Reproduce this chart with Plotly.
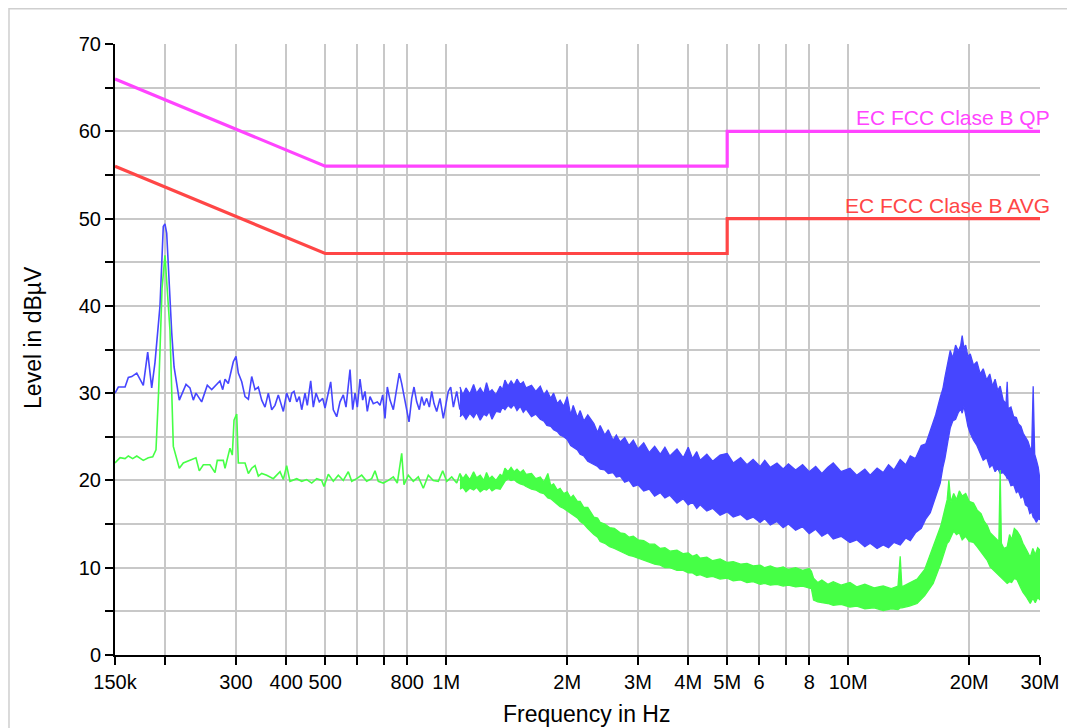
import numpy as np
import plotly.graph_objects as go

# ---------------- limit lines ----------------
qp_freq = [150e3, 500e3, 5e6, 5e6, 30e6]
qp_level = [66, 56, 56, 60, 60]
avg_freq = [150e3, 500e3, 5e6, 5e6, 30e6]
avg_level = [56, 46, 46, 50, 50]

# ---------------- blue (peak) trace, thin-line part ----------------
blue_low_khz = [150, 152.9, 158.9, 161.9, 165.1, 169.9, 176.4, 180.9, 185.1, 188.6,
                194.1, 197.8, 199.7, 201.7, 207.6, 210.4, 216.8, 225.3, 230.4, 234.9,
                238.5, 246.4, 254.5, 261.0, 273.6, 278.0, 281.7, 287.0, 295.4, 300.0,
                304.0, 310.0, 315.9, 322.0, 328.2, 334.5, 340.9, 347.6, 354.2, 361.0,
                368.1, 375.0, 382.2, 393.4, 401.0, 408.7]
blue_low_db = [30.0, 30.7, 30.7, 31.8, 31.9, 32.3, 30.9, 34.7, 30.6, 33.5,
               40.0, 49.1, 49.4, 48.3, 36.9, 33.0, 29.2, 31.0, 30.6, 29.2,
               30.0, 29.0, 30.9, 30.4, 31.4, 30.4, 31.6, 31.1, 33.6, 34.2,
               32.3, 31.3, 29.6, 29.3, 31.9, 30.4, 30.7, 29.2, 28.4, 30.0,
               28.1, 28.6, 29.8, 27.9, 30.0, 29.0]
blue_mid_khz = [412.8, 418.2, 424.8, 431.1, 437.1, 445.4, 451.3, 460.2, 467.1, 474.3,
                483.4, 492.9, 499.5, 509.0, 516.0, 523.8, 534.1, 544.3, 554.7, 563.3,
                576.4, 585.3, 593.1, 601.0, 610.3, 619.8, 628.1, 636.4, 646.3, 658.6,
                673.9, 684.4, 695.1, 704.3, 713.7, 724.8, 738.6, 750.0, 764.4, 775.0,
                785.2, 797.5, 808.1, 820.7, 831.6, 844.5, 857.2, 869.1, 880.6, 894.3,
                907.8, 920.3, 932.5, 947.1, 965.2, 983.6, 997.2, 1012, 1026, 1042,
                1062, 1082]
blue_mid_db = [30.0, 30.2, 29.0, 29.6, 28.1, 30.0, 28.6, 31.4, 28.4, 30.0,
               29.0, 29.4, 28.3, 30.0, 31.3, 28.1, 27.3, 29.0, 29.8, 28.4,
               32.7, 28.1, 30.0, 28.4, 31.6, 29.2, 30.2, 27.9, 29.6, 28.8,
               29.0, 28.6, 29.8, 27.1, 30.7, 29.2, 28.1, 30.0, 32.3, 31.1,
               29.8, 28.4, 26.7, 29.4, 30.7, 29.0, 28.1, 29.6, 28.6, 29.4,
               28.4, 30.2, 28.8, 27.9, 29.4, 27.1, 28.8, 30.2, 30.7, 28.4,
               30.2, 28.1]

# ---------------- blue trace, dense noise band (upper / lower envelope) ----------------
blue_a_mhz = [1.082, 1.10, 1.12, 1.145, 1.17, 1.19, 1.215, 1.24, 1.26, 1.28,
              1.30, 1.33, 1.362, 1.38, 1.40, 1.425, 1.45, 1.475, 1.50, 1.528,
              1.555, 1.58, 1.63, 1.67, 1.714, 1.75, 1.78, 1.82, 1.85, 1.89,
              1.92, 1.96]
blue_a_hi = [30.7, 29.8, 30.6, 29.9, 31.0, 30.0, 30.6, 29.9, 31.2, 30.1,
             30.4, 29.8, 30.8, 30.4, 31.5, 30.8, 31.4, 30.9, 31.6, 31.0,
             31.3, 30.6, 30.9, 30.2, 30.8, 29.8, 30.3, 29.4, 30.0, 28.8,
             29.2, 28.5]
blue_a_lo = [27.3, 27.6, 27.0, 27.7, 27.2, 27.8, 26.9, 27.6, 27.4, 27.9,
             27.0, 27.9, 27.8, 28.4, 28.1, 28.6, 28.3, 28.7, 28.0, 28.5,
             27.8, 28.2, 27.3, 27.6, 27.0, 26.8, 26.3, 26.2, 25.8, 25.6,
             25.2, 25.0]
blue_b_mhz = [2.0, 2.04, 2.07, 2.12, 2.154, 2.2, 2.25, 2.33, 2.38, 2.415,
              2.48, 2.53, 2.6, 2.65, 2.709, 2.78, 2.85, 2.92, 3.0, 3.1,
              3.2, 3.3, 3.407, 3.5, 3.6, 3.75, 3.887, 4.0, 4.1, 4.2,
              4.283, 4.45, 4.6, 4.8, 5.0, 5.176, 5.4, 5.6, 5.8, 6.04,
              6.2, 6.4, 6.65, 6.89, 7.1, 7.4, 7.7, 8.0, 8.3, 8.6,
              8.9, 9.18, 9.6, 10.1, 10.5, 11.0, 11.34, 11.8, 12.22, 12.6,
              13.0, 13.47, 13.9, 14.27, 14.7, 15.2, 15.6]
blue_b_hi = [29.6, 27.5, 28.6, 27.2, 28.0, 26.8, 27.5, 26.5, 25.5, 26.3,
             25.2, 25.8, 24.6, 25.2, 24.4, 24.9, 24.0, 24.6, 23.6, 24.3,
             23.2, 23.9, 23.0, 23.8, 22.8, 23.6, 22.6, 23.8, 22.5, 23.3,
             22.3, 23.0, 22.2, 22.9, 23.1, 22.0, 22.6, 21.8, 22.4, 21.6,
             22.3, 21.5, 22.0, 21.3, 21.9, 21.2, 21.8, 21.0, 21.6, 20.8,
             21.5, 22.0, 21.0, 21.4, 20.6, 21.3, 20.6, 21.4, 20.9, 21.8,
             21.2, 22.4, 21.8, 22.8, 22.5, 24.0, 24.2]
blue_b_lo = [24.7, 24.0, 23.8, 23.5, 23.0, 22.8, 22.2, 21.8, 21.6, 21.3,
             21.2, 20.8, 20.9, 20.4, 20.5, 19.8, 20.0, 19.3, 19.5, 18.8,
             19.0, 18.2, 18.6, 18.0, 18.3, 17.4, 17.9, 17.2, 17.5, 16.8,
             17.2, 16.5, 16.8, 16.0, 16.4, 15.8, 16.1, 15.5, 15.8, 15.2,
             15.6, 14.9, 15.3, 14.6, 15.0, 14.3, 14.7, 13.9, 14.4, 13.6,
             14.0, 13.3, 13.6, 12.9, 13.2, 12.4, 12.8, 12.2, 12.6, 12.3,
             12.9, 12.6, 13.4, 13.1, 14.0, 14.5, 15.6]
blue_c_mhz = [16.0, 16.5, 16.94, 17.2, 17.4, 17.7, 17.94, 18.2, 18.5, 18.8,
              19.05, 19.21, 19.4, 19.6, 19.85, 20.12, 20.5, 20.9, 21.3, 21.67,
              22.1, 22.5, 22.85, 23.2, 23.55, 23.88, 24.3, 24.7, 24.86, 25.0,
              25.4, 25.8, 26.2, 26.5, 26.9, 27.25, 27.6, 28.0, 28.3, 28.6,
              28.85, 29.1, 29.4, 29.7, 30.0]
blue_c_hi = [25.8, 27.5, 29.5, 30.5, 31.8, 33.5, 34.9, 34.0, 35.5, 34.8,
             35.5, 36.6, 35.2, 35.5, 34.2, 34.5, 33.2, 33.6, 32.2, 32.8,
             31.5, 32.2, 30.8, 31.6, 30.3, 30.8, 29.2, 28.8, 31.3, 28.2,
             28.4, 27.3, 27.2, 26.5, 26.2, 25.4, 25.0, 24.5, 23.8, 23.5,
             30.8, 23.0, 22.3, 21.5, 20.0]
blue_c_lo = [16.3, 18.0, 19.7, 21.5, 22.5, 24.5, 26.0, 26.8, 27.0, 27.8,
             28.2, 27.7, 28.5, 27.5, 26.2, 25.4, 24.6, 24.0, 23.2, 22.3,
             22.6, 21.5, 21.8, 21.0, 21.4, 20.8, 20.9, 20.5, 20.2, 20.3,
             19.4, 19.5, 18.6, 18.8, 18.0, 18.2, 17.2, 17.0, 16.2, 16.4,
             15.8, 15.6, 15.2, 15.6, 15.5]

# ---------------- green (average) trace, thin-line part ----------------
green_low_khz = [150, 154.4, 158.9, 161.9, 166.0, 169.9, 176.4, 181.5, 186.2, 189.7,
                 192.5, 196.4, 199.7, 203.2, 205.5, 209.5, 216.8, 221.8, 230.4, 238.5,
                 243.1, 248.8, 258.4, 266.0, 269.5, 278.9, 281.7, 289.8, 293.7, 296.6,
                 301.2, 304.0, 315.9, 322.0, 328.2, 334.5, 340.9, 347.6, 357.7, 371.4,
                 386.0, 393.4, 401.0, 408.7]
green_low_db = [22.0, 22.6, 22.5, 22.8, 22.5, 22.8, 22.3, 22.6, 22.7, 23.5,
                30.0, 42.0, 45.8, 40.0, 37.2, 23.9, 21.4, 22.0, 22.3, 22.6,
                21.1, 21.8, 21.8, 20.9, 22.3, 22.3, 21.4, 23.7, 22.9, 26.9,
                27.6, 22.0, 22.0, 20.8, 21.4, 21.7, 20.5, 20.8, 20.6, 20.2,
                21.0, 20.1, 21.7, 19.9]
green_mid_khz = [424.8, 437.1, 449.8, 462.9, 476.3, 490.1, 496.6, 509.0, 523.8, 539.0,
                 554.7, 570.8, 582.0, 598.9, 616.3, 634.2, 652.6, 665.1, 677.8, 697.5,
                 717.8, 738.6, 755.7, 775.0, 785.2, 804.8, 828.2, 852.3, 877.1, 902.6,
                 928.8, 955.8, 980.2, 1003, 1032, 1062, 1082]
green_mid_db = [20.2, 19.9, 20.1, 19.7, 20.2, 20.0, 19.3, 20.7, 19.9, 20.6,
                20.0, 21.0, 19.9, 20.2, 20.6, 19.9, 20.2, 21.1, 19.9, 19.7,
                20.0, 20.4, 19.7, 23.1, 19.5, 20.6, 19.9, 20.4, 19.1, 20.6,
                20.0, 19.9, 21.1, 19.9, 20.4, 19.7, 20.8]

# ---------------- green trace, dense noise band ----------------
green_a_mhz = [1.082, 1.10, 1.12, 1.145, 1.17, 1.19, 1.215, 1.24, 1.26, 1.28,
               1.30, 1.33, 1.362, 1.38, 1.40, 1.425, 1.45, 1.475, 1.50, 1.528,
               1.555, 1.58, 1.63, 1.67, 1.714, 1.75, 1.79, 1.82, 1.85, 1.89,
               1.92, 1.96]
green_a_hi = [20.8, 20.2, 20.7, 20.1, 21.0, 20.3, 20.6, 20.0, 20.9, 20.2,
              20.5, 20.0, 20.7, 20.5, 21.4, 21.0, 21.5, 21.0, 21.3, 20.9,
              21.2, 20.7, 20.8, 20.2, 20.4, 19.8, 20.8, 19.4, 19.6, 18.9,
              19.1, 18.5]
green_a_lo = [19.0, 19.2, 18.7, 19.1, 18.9, 19.2, 18.7, 19.0, 18.9, 19.2,
              18.8, 19.1, 19.0, 19.5, 19.9, 20.2, 20.0, 20.1, 19.8, 19.6,
              19.5, 19.3, 19.0, 18.9, 18.6, 18.5, 18.0, 17.9, 17.6, 17.3,
              17.0, 16.8]
green_b_mhz = [2.0, 2.04, 2.07, 2.12, 2.154, 2.2, 2.25, 2.33, 2.38, 2.415,
               2.48, 2.55, 2.62, 2.709, 2.78, 2.85, 2.92, 3.0, 3.1, 3.2,
               3.3, 3.407, 3.5, 3.6, 3.75, 3.887, 4.0, 4.1, 4.2, 4.283,
               4.45, 4.6, 4.8, 5.0, 5.176, 5.4, 5.6, 5.8, 6.04, 6.2,
               6.4, 6.65, 6.89, 7.1, 7.4, 7.7, 8.0, 8.1]
green_b_hi = [18.7, 18.0, 18.3, 17.6, 17.6, 16.9, 16.9, 15.8, 15.7, 15.2,
              15.0, 14.6, 14.5, 14.0, 13.9, 13.5, 13.6, 13.2, 13.1, 12.7,
              12.7, 12.2, 12.3, 11.9, 12.0, 11.6, 11.7, 11.3, 11.5, 11.1,
              11.2, 10.8, 11.0, 10.6, 10.7, 10.4, 10.5, 10.2, 10.3, 10.0,
              10.2, 9.9, 10.1, 9.8, 10.0, 9.7, 9.9, 9.6]
green_b_lo = [16.5, 16.3, 16.0, 15.7, 15.3, 15.0, 14.5, 13.8, 13.5, 13.0,
              12.8, 12.4, 12.2, 11.9, 11.7, 11.4, 11.3, 11.1, 10.9, 10.7,
              10.4, 10.3, 10.0, 10.0, 9.7, 9.7, 9.4, 9.4, 9.1, 9.2,
              8.9, 9.0, 8.7, 8.8, 8.5, 8.6, 8.3, 8.4, 8.1, 8.2,
              8.0, 8.1, 7.9, 8.0, 7.8, 7.9, 7.7, 7.6]
green_c_mhz = [8.2, 8.4, 8.6, 8.9, 9.18, 9.6, 10.1, 10.5, 11.0, 11.6,
               12.22, 12.8, 13.3, 13.47, 13.6, 14.2, 14.84, 15.5, 16.27, 17.0,
               17.63, 17.8, 18.0, 18.3, 18.6, 18.9, 19.21, 19.6, 20.0, 20.5,
               20.94, 21.4, 21.8, 22.2, 22.55, 23.0, 23.4, 23.7, 23.88, 24.05,
               24.4, 24.86, 25.2, 25.5, 25.9, 26.32, 26.8, 27.2, 27.8, 28.37,
               28.8, 29.2, 29.6, 30.0]
green_c_hi = [8.8, 8.3, 8.6, 8.1, 8.4, 8.0, 8.3, 7.8, 8.1, 7.7,
              7.9, 7.6, 7.9, 11.3, 7.8, 8.2, 8.7, 9.8, 12.4, 14.8,
              17.8, 20.0, 17.5, 18.5, 17.8, 18.8, 18.2, 18.5, 17.6, 17.4,
              16.6, 16.2, 15.3, 14.8, 14.0, 13.6, 13.2, 13.0, 21.2, 12.8,
              12.2, 12.4, 13.8, 13.2, 14.5, 14.2, 13.6, 12.8, 12.0, 11.2,
              12.2, 11.5, 12.3, 12.0]
green_c_lo = [6.3, 6.1, 6.0, 5.9, 5.7, 5.8, 5.5, 5.6, 5.3, 5.4,
              5.1, 5.3, 5.2, 5.4, 5.4, 5.6, 5.9, 6.8, 8.2, 10.5,
              12.8, 13.0, 13.5, 14.2, 13.8, 14.0, 13.2, 13.6, 13.0, 12.9,
              12.4, 11.8, 11.2, 10.8, 10.1, 9.7, 9.4, 9.2, 9.0, 8.9,
              8.5, 8.2, 8.4, 8.3, 8.8, 8.6, 7.8, 7.2, 6.6, 5.9,
              6.5, 6.0, 6.6, 6.3]

# ---------------- axis ticks ----------------
x_tick_vals = [150e3, 200e3, 300e3, 400e3, 500e3, 600e3, 700e3, 800e3, 1e6,
               2e6, 3e6, 4e6, 5e6, 6e6, 7e6, 8e6, 10e6, 20e6, 30e6]
x_tick_text = ["150k", "", "300", "400", "500", "", "", "800", "1M",
               "2M", "3M", "4M", "5M", "6", "", "8", "10M", "20M", "30M"]
y_tick_vals = list(range(0, 75, 5))
y_tick_text = [str(v) if v % 10 == 0 else "" for v in y_tick_vals]

for f, h, l in [(blue_a_mhz, blue_a_hi, blue_a_lo), (blue_b_mhz, blue_b_hi, blue_b_lo),
                (blue_c_mhz, blue_c_hi, blue_c_lo), (green_a_mhz, green_a_hi, green_a_lo),
                (green_b_mhz, green_b_hi, green_b_lo), (green_c_mhz, green_c_hi, green_c_lo)]:
    assert len(f) == len(h) == len(l), (len(f), len(h), len(l))
assert len(blue_low_khz) == len(blue_low_db) and len(blue_mid_khz) == len(blue_mid_db)
assert len(green_low_khz) == len(green_low_db) and len(green_mid_khz) == len(green_mid_db)

QP_COLOR = "#ff44ff"
AVG_COLOR = "#ff4646"
BLUE = "#4646ff"
GREEN = "#46ff46"

fig = go.Figure()


def line(x, y, color, width):
    fig.add_trace(go.Scatter(x=x, y=y, mode="lines", line=dict(color=color, width=width),
                             hoverinfo="skip"))


def band(x, hi, lo, color):
    fig.add_trace(go.Scatter(x=x, y=hi, mode="lines", line=dict(color=color, width=1.3),
                             hoverinfo="skip"))
    fig.add_trace(go.Scatter(x=x, y=lo, mode="lines", line=dict(color=color, width=1.3),
                             fill="tonexty", fillcolor=color, hoverinfo="skip"))


line(qp_freq, qp_level, QP_COLOR, 3.2)
line(avg_freq, avg_level, AVG_COLOR, 3.2)

blue_f = [v * 1e3 for v in blue_low_khz + blue_mid_khz]
line(blue_f, blue_low_db + blue_mid_db, BLUE, 1.6)
band([v * 1e6 for v in blue_a_mhz + blue_b_mhz + blue_c_mhz],
     blue_a_hi + blue_b_hi + blue_c_hi, blue_a_lo + blue_b_lo + blue_c_lo, BLUE)

green_f = [v * 1e3 for v in green_low_khz + green_mid_khz]
line(green_f, green_low_db + green_mid_db, GREEN, 1.6)
band([v * 1e6 for v in green_a_mhz + green_b_mhz + green_c_mhz],
     green_a_hi + green_b_hi + green_c_hi, green_a_lo + green_b_lo + green_c_lo, GREEN)

FONT = "Arial, 'Liberation Sans', Helvetica, sans-serif"
axis_common = dict(showgrid=True, gridcolor="#c8c8c8", gridwidth=1.5,
                   showline=True, linecolor="black", linewidth=2,
                   ticks="outside", ticklen=8, tickwidth=2, tickcolor="black",
                   zeroline=False, tickfont=dict(family=FONT, size=20, color="black"))

fig.update_xaxes(type="log", range=[np.log10(150e3), np.log10(30e6)],
                 tickmode="array", tickvals=x_tick_vals, ticktext=x_tick_text,
                 **axis_common)
fig.update_yaxes(range=[0, 70], tickmode="array", tickvals=y_tick_vals,
                 ticktext=y_tick_text, **axis_common)

# page body has an 8px margin; the figure is sized to fill the rest of the window
fig.update_layout(
    width=1067, height=720,
    margin=dict(l=107, r=35, t=36, b=73),
    paper_bgcolor="white", plot_bgcolor="white",
    showlegend=False,
    font=dict(family=FONT, size=20, color="black"),
    annotations=[
        dict(text="EC FCC Clase B QP", x=1, xref="paper", xanchor="right", xshift=12,
             y=60, yref="y", yanchor="bottom", yshift=0, showarrow=False,
             font=dict(family=FONT, size=21, color=QP_COLOR)),
        dict(text="EC FCC Clase B AVG", x=1, xref="paper", xanchor="right", xshift=12,
             y=50, yref="y", yanchor="bottom", yshift=0, showarrow=False,
             font=dict(family=FONT, size=21, color=AVG_COLOR)),
        dict(text="Frequency in Hz", x=0.510, xref="paper", xanchor="center",
             y=-0.0966, yref="paper", yanchor="middle", showarrow=False,
             font=dict(family=FONT, size=23, color="black")),
        dict(text="Level in dBµV", x=-0.0886, xref="paper", xanchor="center",
             y=0.519, yref="paper", yanchor="middle", textangle=-90, showarrow=False,
             font=dict(family=FONT, size=23, color="black")),
    ],
    shapes=[
        dict(type="rect", xref="paper", yref="paper", x0=-0.1146, x1=1.2,
             y0=-0.3, y1=1.0575, line=dict(color="#cfcfcf", width=1.5), layer="below"),
    ],
)

fig.write_html("out.html")
